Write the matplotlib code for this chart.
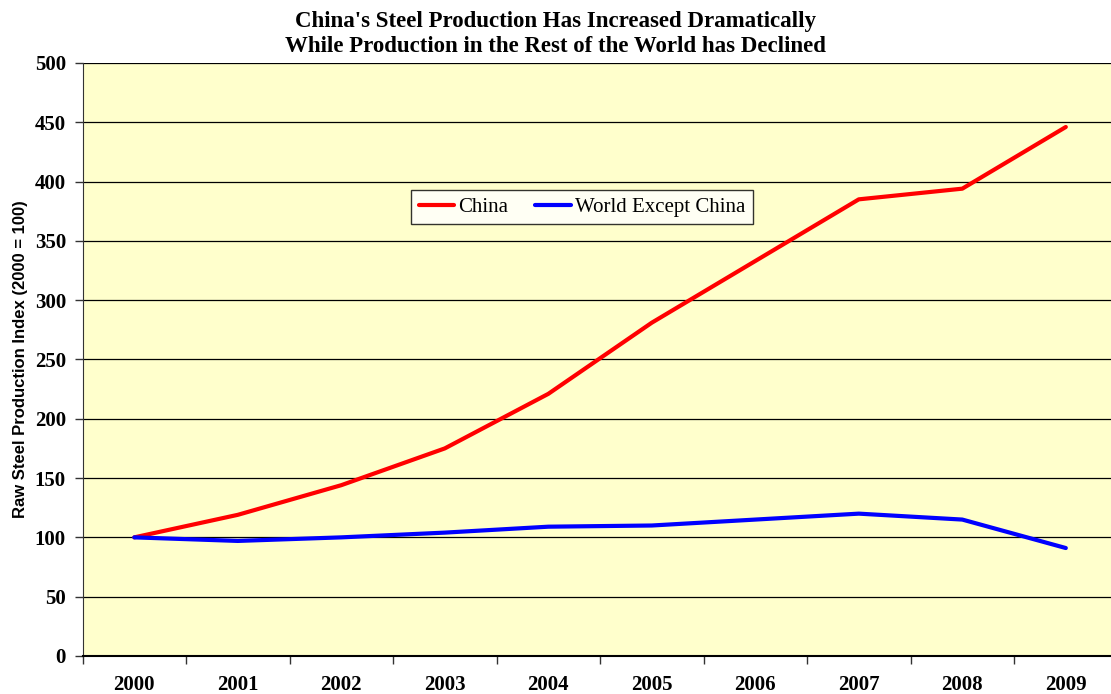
import numpy as np
import matplotlib.pyplot as plt

years = ["2000", "2001", "2002", "2003", "2004", "2005", "2006", "2007", "2008", "2009"]
china = [100, 119, 144, 175, 221, 281, 333, 385, 394, 446]
world_ex_china = [100, 97, 100, 104, 109, 110, 115, 120, 115, 91]

serif = "Liberation Serif"
sans = "Liberation Sans"

fig = plt.figure(figsize=(11.11, 6.94), dpi=100)
ax = fig.add_axes([0.0743, 0.0548, 0.9316, 0.8545])
ax.set_facecolor("#FFFFCC")

x = np.arange(len(years))
ax.plot(x, china, color="#FF0000", lw=3, label="China", solid_capstyle="round")
ax.plot(x, world_ex_china, color="#0000FF", lw=3, label="World Except China", solid_capstyle="round")

ax.set_xlim(-0.5, len(years) - 0.5)
ax.set_ylim(0, 500)
ax.set_yticks(np.arange(0, 501, 50))
ax.yaxis.grid(True, color="black", lw=0.9)
ax.set_axisbelow(True)

ax.set_xticks(x)
ax.set_xticklabels(years, fontfamily=serif, fontweight="bold", fontsize=15)
ax.set_xticks(np.arange(-0.5, len(years), 1), minor=True)
ax.tick_params(axis="x", which="major", length=0, pad=14)
ax.tick_params(axis="x", which="minor", length=6, width=1, color="#333333")
ax.tick_params(axis="y", length=6, width=1, color="#333333", pad=6)
for lab in ax.get_yticklabels():
    lab.set_fontfamily(serif)
    lab.set_fontweight("bold")
    lab.set_fontsize(15)

for side in ["top", "right"]:
    ax.spines[side].set_visible(False)
ax.spines["left"].set_color("#333333")
ax.spines["bottom"].set_color("black")
ax.spines["bottom"].set_linewidth(1.5)

ax.set_ylabel("Raw Steel Production Index (2000 = 100)", fontfamily=sans,
              fontweight="bold", fontsize=12, labelpad=5)

fig.suptitle("China's Steel Production Has Increased Dramatically\n"
             "While Production in the Rest of the World has Declined",
             x=0.5, y=0.984, va="top", fontfamily=serif, fontweight="bold",
             fontsize=16.5, linespacing=1.27)

leg = ax.legend(loc="center", bbox_to_anchor=(0.4826, 0.757), ncol=2,
                prop={"family": serif, "size": 15}, frameon=True, fancybox=False,
                edgecolor="black", handlelength=1.7, handletextpad=0.2,
                columnspacing=1.3, borderpad=0.35, borderaxespad=0)
leg.get_frame().set_linewidth(1.0)

fig.savefig("out.png", dpi=100)
